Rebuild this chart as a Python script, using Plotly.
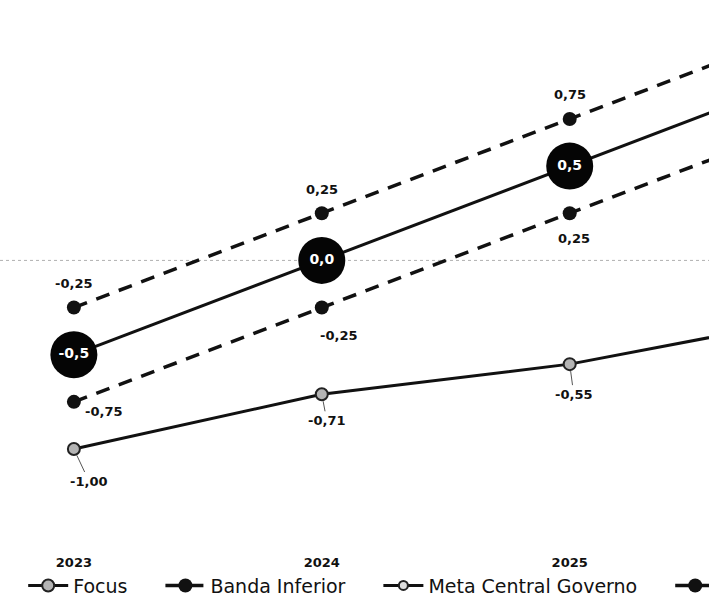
import plotly.graph_objects as go

# Categories and series
anos = ["2023", "2024", "2025", "2026"]
focus = [-1.00, -0.71, -0.55, -0.30]
banda_inferior = [-0.75, -0.25, 0.25, 0.75]
meta_central = [-0.5, 0.0, 0.5, 1.0]
banda_superior = [-0.25, 0.25, 0.75, 1.25]


def fmt(v, casas=2):
    return f"{v:.{casas}f}".replace(".", ",")


FONT = "DejaVu Sans"
LEG_PAD = "\u00a0" * 4 + "\u2009"

fig = go.Figure()

fig.add_trace(go.Scatter(
    x=anos, y=focus, name="Focus" + LEG_PAD, mode="lines+markers",
    line=dict(color="#111111", width=3),
    marker=dict(size=12, color="#b4b4b4", line=dict(color="#222222", width=2)),
    cliponaxis=False,
))
fig.add_trace(go.Scatter(
    x=anos, y=banda_inferior, name="Banda Inferior" + LEG_PAD, mode="lines+markers",
    line=dict(color="#111111", width=3.5, dash="14px,10px"),
    marker=dict(size=14, color="#111111"),
))
fig.add_trace(go.Scatter(
    x=anos, y=meta_central, name="Meta Central Governo" + LEG_PAD, mode="lines+markers",
    line=dict(color="#111111", width=3),
    marker=dict(size=9, color="#dddddd", line=dict(color="#222222", width=2)),
))
fig.add_trace(go.Scatter(
    x=anos, y=banda_superior, name="Banda Superior", mode="lines+markers",
    line=dict(color="#111111", width=3.5, dash="14px,10px"),
    marker=dict(size=14, color="#111111"),
))
# large bubbles carrying the central target values
fig.add_trace(go.Scatter(
    x=anos, y=meta_central, mode="markers+text", showlegend=False,
    marker=dict(size=47, color="#050505"),
    text=[fmt(v, 1) for v in meta_central], textposition="middle center",
    textfont=dict(family=FONT, size=14, color="white", weight="bold"),
    hoverinfo="skip",
))

lab_font = dict(family=FONT, size=13, color="#111111", weight="bold")

# Focus labels with leader lines (x given as category index)
focus_off = [(15, 32), (5, 26), (4, 30), (4, 30)]
for i, (v, (ax, ay)) in enumerate(zip(focus, focus_off)):
    fig.add_annotation(x=i, y=v, text=fmt(v), showarrow=True, arrowhead=0,
                       arrowwidth=1, arrowcolor="#555555", standoff=7,
                       ax=ax, ay=ay, font=lab_font)

# Banda Inferior labels
inf_off = [(30, -10, False), (17, 28, True), (4, -25, False), (4, -25, False)]
for i, (v, (dx, dy, arrow)) in enumerate(zip(banda_inferior, inf_off)):
    if arrow:
        fig.add_annotation(x=i, y=v, text=fmt(v), showarrow=True, arrowhead=0,
                           arrowwidth=1, arrowcolor="#555555", standoff=7,
                           ax=dx, ay=dy, font=lab_font)
    else:
        fig.add_annotation(x=i, y=v, text=fmt(v), showarrow=False,
                           xshift=dx, yshift=dy, font=lab_font)

# Banda Superior labels
for i, v in enumerate(banda_superior):
    fig.add_annotation(x=i, y=v, text=fmt(v), showarrow=False,
                       xshift=0, yshift=24, font=lab_font)

# faint dotted zero reference
fig.add_shape(type="line", xref="paper", x0=0, x1=1, yref="y", y0=0, y1=0,
              line=dict(color="#b0b0b0", width=1, dash="dot"), layer="below")

fig.update_layout(
    width=892, height=608,
    margin=dict(l=0, r=0, t=10, b=55, autoexpand=False),
    paper_bgcolor="white", plot_bgcolor="white",
    separators=",.",
    font=dict(family=FONT, color="#111111"),
    showlegend=True,
    legend=dict(orientation="h", x=0.026, xanchor="left", y=-0.06, yanchor="middle",
                font=dict(family=FONT, size=19, color="#111111"),
                itemwidth=40, itemsizing="trace", bgcolor="rgba(0,0,0,0)"),
    xaxis=dict(type="category", range=[-0.298, 3.3], showgrid=False, zeroline=False,
               showline=False, ticks="",
               tickfont=dict(family=FONT, size=13, color="#111111", weight="bold")),
    yaxis=dict(range=[-1.5514, 1.3277], showgrid=False, zeroline=False,
               showline=False, showticklabels=False, ticks=""),
)

fig.write_html("out.html")
